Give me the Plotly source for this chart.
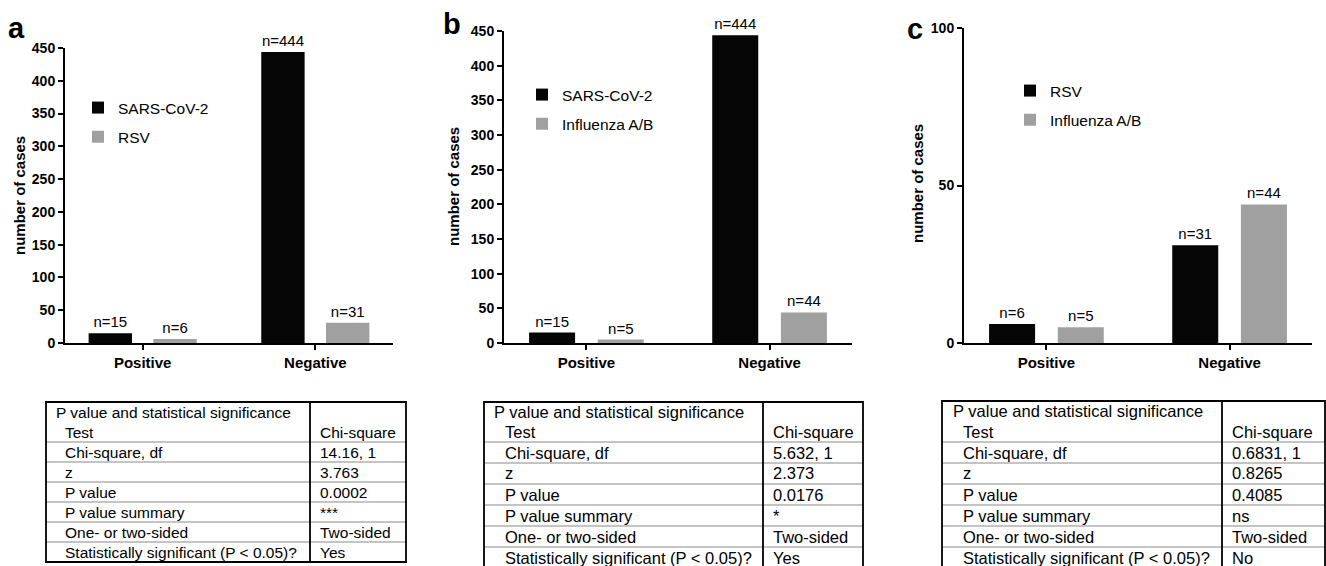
import plotly.graph_objects as go

W, H = 1326, 566
FONT = "Liberation Sans, Arial, sans-serif"

# ---------------- data ----------------
categories = ["Positive", "Negative"]

a_names = ["SARS-CoV-2", "RSV"]
a_first = [15, 444]
a_second = [6, 31]

b_names = ["SARS-CoV-2", "Influenza A/B"]
b_first = [15, 444]
b_second = [5, 44]

c_names = ["RSV", "Influenza A/B"]
c_first = [6, 31]
c_second = [5, 44]

yticks_ab = [0, 50, 100, 150, 200, 250, 300, 350, 400, 450]
yticks_c = [0, 50, 100]

table_title = "P value and statistical significance"
table_test_label = "Test"
table_test_value = "Chi-square"
table_labels = ["Chi-square, df", "z", "P value", "P value summary",
                "One- or two-sided", "Statistically significant (P < 0.05)?"]
a_stats = ["14.16, 1", "3.763", "0.0002", "***", "Two-sided", "Yes"]
b_stats = ["5.632, 1", "2.373", "0.0176", "*", "Two-sided", "Yes"]
c_stats = ["0.6831, 1", "0.8265", "0.4085", "ns", "Two-sided", "No"]

BLACK = "#050505"
GRAY = "#a0a0a0"


def X(px):
    return px / W


def Y(py):
    return 1 - py / H


panels = [
    dict(sfx="", names=a_names, first=a_first, second=a_second, xd=(65, 393), yd=(343, 48),
         yr=[0, 450], ticks=yticks_ab, legend="legend", leg_x=78, leg_y=91,
         letter="a", letter_xy=(16, 28), ytitle_xy=(19, 196)),
    dict(sfx="2", names=b_names, first=b_first, second=b_second, xd=(504, 852), yd=(343, 31),
         yr=[0, 450], ticks=yticks_ab, legend="legend2", leg_x=522, leg_y=78,
         letter="b", letter_xy=(452, 24), ytitle_xy=(453, 187)),
    dict(sfx="3", names=c_names, first=c_first, second=c_second, xd=(964, 1312), yd=(343, 28),
         yr=[0, 100], ticks=yticks_c, legend="legend3", leg_x=1010, leg_y=74,
         letter="c", letter_xy=(915, 29), ytitle_xy=(917, 184)),
]

fig = go.Figure()
layout = dict(
    width=W, height=H, autosize=False,
    margin=dict(l=0, r=0, t=0, b=0, pad=0, autoexpand=False),
    paper_bgcolor="white", plot_bgcolor="white",
    barmode="group", bargap=0.25, bargroupgap=0.33,
    font=dict(family=FONT, color="black"),
    showlegend=True,
)
annotations = []
shapes = []

for p in panels:
    xa = "x" + p["sfx"]
    ya = "y" + p["sfx"]
    for vals, name, color, grp in [(p["first"], p["names"][0], BLACK, "g1"),
                                   (p["second"], p["names"][1], GRAY, "g2")]:
        fig.add_trace(go.Bar(
            x=categories, y=vals, name=name, marker_color=color,
            marker_line_width=0,
            text=[f"n={v}" for v in vals], textposition="outside",
            textfont=dict(size=15, color="black", family=FONT),
            constraintext="none", cliponaxis=False,
            xaxis=xa, yaxis=ya, legend=p["legend"], legendgroup=p["legend"] + grp,
        ))
    layout["xaxis" + p["sfx"]] = dict(
        type="category", domain=[X(p["xd"][0]), X(p["xd"][1])], anchor=ya,
        range=[-0.45, 1.45], showline=True, linecolor="black", linewidth=2,
        ticks="outside", ticklen=5, tickwidth=1.5, tickcolor="black",
        tickfont=dict(size=15, family=FONT, weight="bold", color="black"),
        showgrid=False, zeroline=False, fixedrange=True, automargin=False,
    )
    layout["yaxis" + p["sfx"]] = dict(
        domain=[Y(p["yd"][0]), Y(p["yd"][1])], anchor=xa, range=p["yr"],
        tickvals=p["ticks"], showline=True, linecolor="black", linewidth=2,
        ticks="outside", ticklen=5, tickwidth=1.5, tickcolor="black",
        tickfont=dict(size=14, family=FONT, weight="bold", color="black"),
        showgrid=False, zeroline=False, fixedrange=True, automargin=False,
    )
    layout[p["legend"]] = dict(
        x=X(p["leg_x"]), y=Y(p["leg_y"]), xanchor="left", yanchor="top",
        bgcolor="rgba(0,0,0,0)", borderwidth=0,
        font=dict(size=15.5, family=FONT, color="black"),
        traceorder="grouped", tracegroupgap=6,
    )
    annotations.append(dict(
        text=p["letter"], x=X(p["letter_xy"][0]), y=Y(p["letter_xy"][1]),
        xref="paper", yref="paper", xanchor="center", yanchor="middle",
        showarrow=False, font=dict(size=29, family=FONT, weight="bold", color="black"),
    ))
    annotations.append(dict(
        text="number of cases", x=X(p["ytitle_xy"][0]), y=Y(p["ytitle_xy"][1]),
        xref="paper", yref="paper", xanchor="center", yanchor="middle",
        textangle=-90, showarrow=False,
        font=dict(size=15, family=FONT, weight="bold", color="black"),
    ))

# ---------------- tables ----------------
tables = [
    dict(stats=a_stats, left=46, right=406, div=310, top=402, head=442, row=20,
         fs=15.5, ind1=8, ind2=17, vind=8),
    dict(stats=b_stats, left=484, right=863, div=763, top=402, head=442, row=21,
         fs=16.5, ind1=8, ind2=19, vind=8),
    dict(stats=c_stats, left=942, right=1325, div=1222, top=401, head=442, row=21,
         fs=16.5, ind1=9, ind2=19, vind=8),
]

for t in tables:
    bottom = t["head"] + t["row"] * len(table_labels)
    for i in range(len(table_labels)):
        yy = t["head"] + t["row"] * i
        shapes.append(dict(type="line", xref="paper", yref="paper",
                           x0=X(t["left"]), x1=X(t["right"]), y0=Y(yy), y1=Y(yy),
                           line=dict(color="#8a8a8a", width=1.2)))
    shapes.append(dict(type="rect", xref="paper", yref="paper",
                       x0=X(t["left"]), x1=X(t["right"]), y0=Y(bottom), y1=Y(t["top"]),
                       line=dict(color="black", width=1.8)))
    shapes.append(dict(type="line", xref="paper", yref="paper",
                       x0=X(t["div"]), x1=X(t["div"]), y0=Y(bottom), y1=Y(t["top"]),
                       line=dict(color="black", width=1.8)))
    f = dict(size=t["fs"], family=FONT, color="black")
    half = (t["head"] - t["top"]) / 4
    annotations.append(dict(text=table_title, x=X(t["left"] + t["ind1"]),
                            y=Y(t["top"] + half), xref="paper", yref="paper",
                            xanchor="left", yanchor="middle", showarrow=False, font=f))
    annotations.append(dict(text=table_test_label, x=X(t["left"] + t["ind2"]),
                            y=Y(t["top"] + 3 * half), xref="paper", yref="paper",
                            xanchor="left", yanchor="middle", showarrow=False, font=f))
    annotations.append(dict(text=table_test_value, x=X(t["div"] + t["vind"]),
                            y=Y(t["top"] + 3 * half), xref="paper", yref="paper",
                            xanchor="left", yanchor="middle", showarrow=False, font=f))
    for i, (lab, val) in enumerate(zip(table_labels, t["stats"])):
        yc = t["head"] + t["row"] * (i + 0.5)
        annotations.append(dict(text=lab, x=X(t["left"] + t["ind2"]), y=Y(yc),
                                xref="paper", yref="paper", xanchor="left", yanchor="middle",
                                showarrow=False, font=f))
        annotations.append(dict(text=val, x=X(t["div"] + t["vind"]), y=Y(yc),
                                xref="paper", yref="paper", xanchor="left", yanchor="middle",
                                showarrow=False, font=f))

layout["annotations"] = annotations
layout["shapes"] = shapes
fig.update_layout(**layout)
fig.write_html("out.html", config={"displayModeBar": False},
               post_script="document.body.style.margin='0px';")
